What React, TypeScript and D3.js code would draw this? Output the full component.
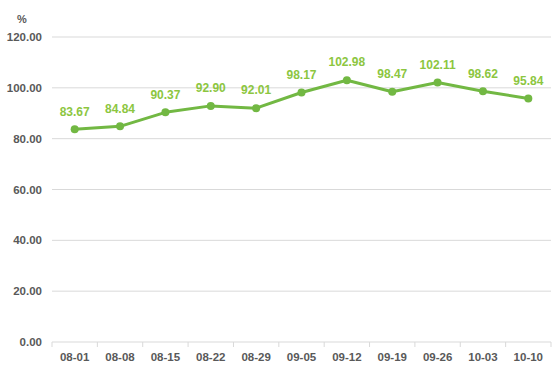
import React from "react";
import * as d3 from "d3";

const categories = ["08-01", "08-08", "08-15", "08-22", "08-29", "09-05", "09-12", "09-19", "09-26", "10-03", "10-10"];
const values = [83.67, 84.84, 90.37, 92.9, 92.01, 98.17, 102.98, 98.47, 102.11, 98.62, 95.84];
const yTicks = [0, 20, 40, 60, 80, 100, 120];

const W = 554, H = 374;
const M = { left: 52, right: 3, top: 37, bottom: 32 };
const FONT = "'Liberation Sans', Arial, sans-serif";

export default function App() {
  const x = d3.scaleBand<string>().domain(categories).range([M.left, W - M.right]);
  const y = d3.scaleLinear().domain([0, 120]).range([H - M.bottom, M.top]);
  const line = d3.line<number>()
    .x((_, i) => (x(categories[i]) as number) + x.bandwidth() / 2)
    .y((d) => y(d));
  const y0 = y(0);
  return (
    <svg width={W} height={H} style={{ position: "absolute", left: 0, top: 0, background: "#fff" }}>
      {yTicks.filter((t) => t > 0).map((t) => (
        <line key={t} x1={M.left} x2={W - M.right} y1={y(t)} y2={y(t)} stroke="#d9d9d9" strokeWidth={1} />
      ))}
      <line x1={M.left} x2={W - M.right} y1={y0} y2={y0} stroke="#d9d9d9" strokeWidth={1} />
      {categories.map((c) => (
        <line key={c} x1={x(c) as number} x2={x(c) as number} y1={y0} y2={y0 + 5} stroke="#d9d9d9" />
      ))}
      <line x1={W - M.right} x2={W - M.right} y1={y0} y2={y0 + 5} stroke="#d9d9d9" />
      {yTicks.map((t) => (
        <text key={t} x={42} y={y(t)} dy="0.35em" textAnchor="end" fontFamily={FONT} fontWeight="bold" fontSize={11.5} fill="#595959">
          {t.toFixed(2)}
        </text>
      ))}
      <text x={22} y={19} dy="0.35em" textAnchor="middle" fontFamily={FONT} fontWeight="bold" fontSize={11} fill="#595959">%</text>
      {categories.map((c) => (
        <text key={c} x={(x(c) as number) + x.bandwidth() / 2} y={357} dy="0.35em" textAnchor="middle" fontFamily={FONT} fontWeight="bold" fontSize={11.5} fill="#595959">
          {c}
        </text>
      ))}
      <path d={line(values) || ""} fill="none" stroke="#72b843" strokeWidth={3} strokeLinejoin="round" />
      {values.map((v, i) => {
        const cx = (x(categories[i]) as number) + x.bandwidth() / 2;
        return (
          <g key={i}>
            <circle cx={cx} cy={y(v)} r={4} fill="#72b843" />
            <text x={cx} y={y(v) - 18} dy="0.35em" textAnchor="middle" fontFamily={FONT} fontWeight="bold" fontSize={12} fill="#8cc63f">
              {v.toFixed(2)}
            </text>
          </g>
        );
      })}
    </svg>
  );
}
